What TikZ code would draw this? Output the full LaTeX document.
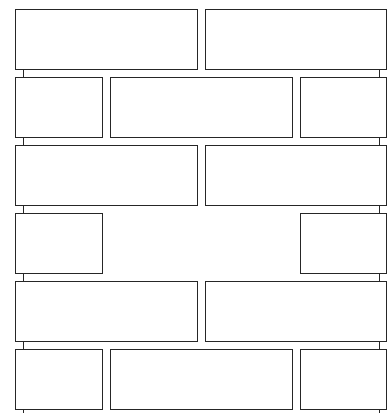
\documentclass[tikz,border=0pt]{standalone}
\usetikzlibrary{backgrounds}
\begin{document}
\begin{tikzpicture}[x=1bp,y=-1bp,
  brk/.style={draw=black!85,fill=white,line width=0.8pt,inner sep=0pt,
    minimum height=59.6bp,anchor=north west},
  full/.style={brk,minimum width=181.4bp},
  mid/.style={brk,minimum width=182.3bp},
  half/.style={brk,minimum width=86.3bp},
  tie/.style={draw=black!85,line width=0.8pt}]
\useasboundingbox (0,0) rectangle (390,413);
% row 1
\node[full] (a1) at (15.3,9.3) {};
\node[full] (b1) at (204.7,9.3) {};
% row 2
\node[half] (a2) at (15.3,77.3) {};
\node[mid] (b2) at (109.7,77.3) {};
\node[half] (c2) at (299.8,77.3) {};
% row 3
\node[full] (a3) at (15.3,145.3) {};
\node[full] (b3) at (204.7,145.3) {};
% row 4
\node[half] (a4) at (15.3,213.3) {};
\node[half] (c4) at (299.8,213.3) {};
% row 5
\node[full] (a5) at (15.3,281.3) {};
\node[full] (b5) at (204.7,281.3) {};
% row 6
\node[half] (a6) at (15.3,349.3) {};
\node[mid] (b6) at (109.7,349.3) {};
\node[half] (c6) at (299.8,349.3) {};
% wall ties
\coordinate (tl) at (23.3,413);
\coordinate (tr) at (379,413);
\begin{scope}[on background layer]
\draw[tie] (tl |- a1.north) -- (tl);
\draw[tie] (tr |- b1.north) -- (tr);
\end{scope}
\end{tikzpicture}
\end{document}
